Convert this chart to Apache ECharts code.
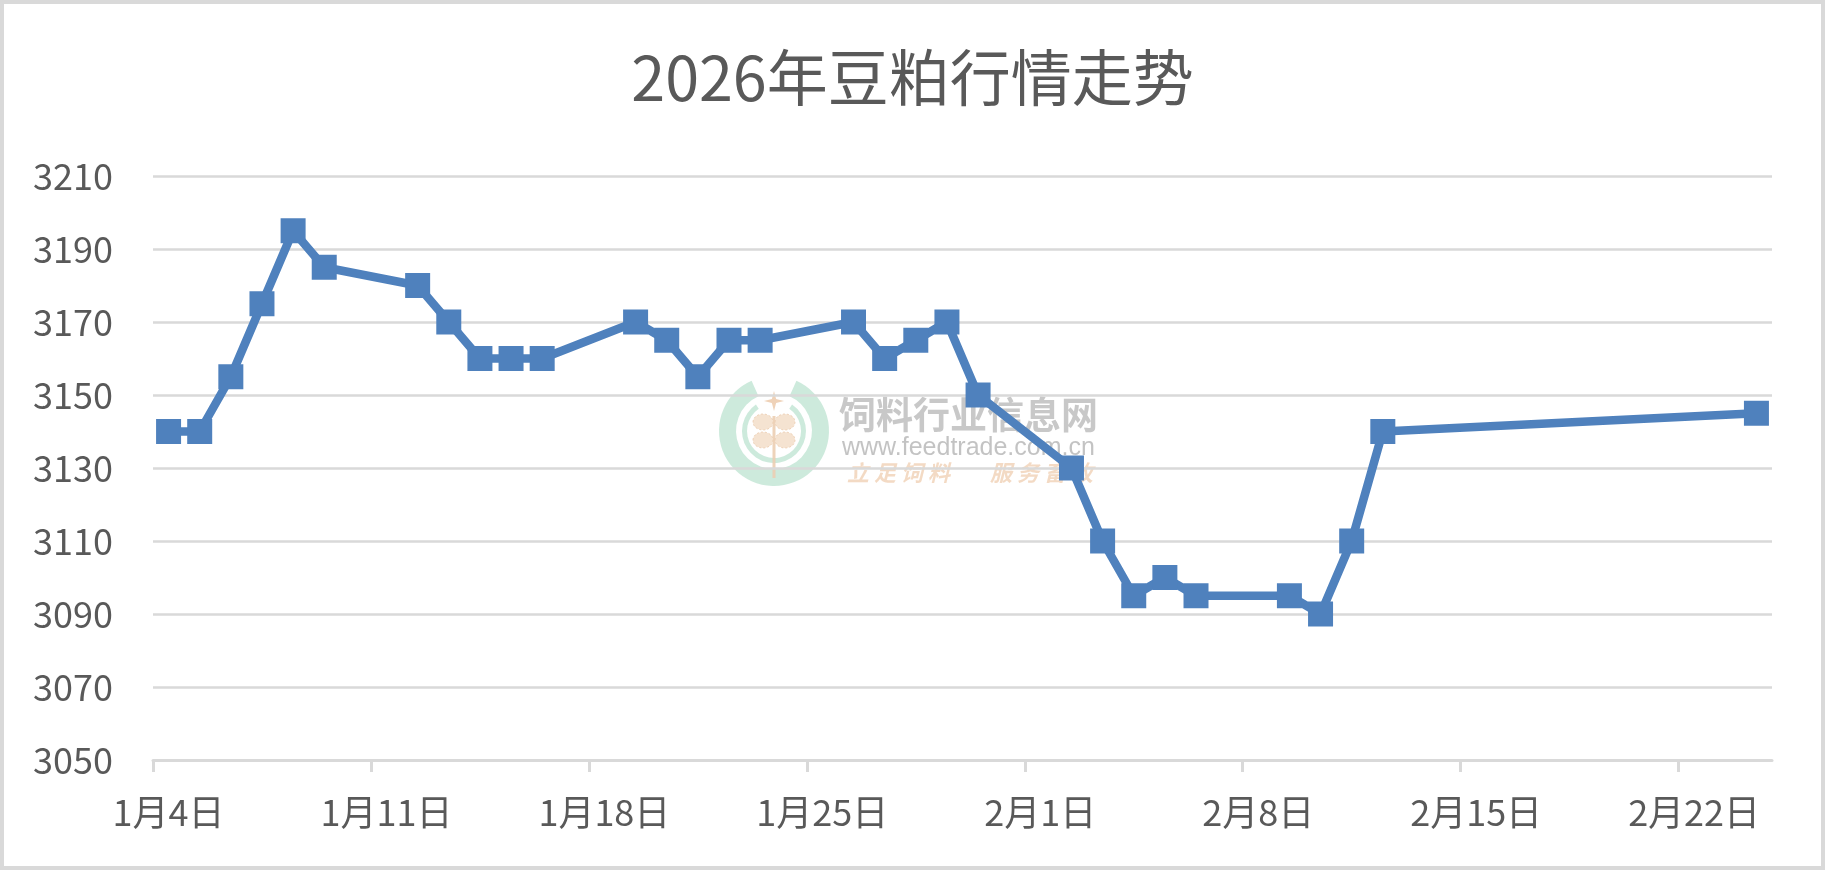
<!DOCTYPE html>
<html>
<head>
<meta charset="utf-8">
<title>2026年豆粕行情走势</title>
<script src="https://cdn.jsdelivr.net/npm/echarts@6/dist/echarts.min.js"></script>
<style>
  html, body { margin: 0; padding: 0; background: #fff; }
  #chart { width: 1825px; height: 870px; }
</style>
</head>
<body>
<div id="chart"></div>
<script>
// 交易日期与价格（元/吨）
const dates = [
  '2026-01-04', '2026-01-05', '2026-01-06', '2026-01-07', '2026-01-08', '2026-01-09',
  '2026-01-12', '2026-01-13', '2026-01-14', '2026-01-15', '2026-01-16',
  '2026-01-19', '2026-01-20', '2026-01-21', '2026-01-22', '2026-01-23',
  '2026-01-26', '2026-01-27', '2026-01-28', '2026-01-29', '2026-01-30',
  '2026-02-02', '2026-02-03', '2026-02-04', '2026-02-05', '2026-02-06',
  '2026-02-09', '2026-02-10', '2026-02-11', '2026-02-12',
  '2026-02-24'
]
const prices = [
  3140, 3140, 3155, 3175, 3195, 3185,
  3180, 3170, 3160, 3160, 3160,
  3170, 3165, 3155, 3165, 3165,
  3170, 3160, 3165, 3170, 3150,
  3130, 3110, 3095, 3100, 3095,
  3095, 3090, 3110, 3140,
  3145
]
// 横轴刻度日期
const tickDates = [
  '2026-01-04', '2026-01-11', '2026-01-18', '2026-01-25',
  '2026-02-01', '2026-02-08', '2026-02-15', '2026-02-22'
]
const axisStart = '2026-01-04'
const axisEnd = '2026-02-25'

const DAY = 86400000
function dayIndex(s) {
  return (Date.parse(s + 'T00:00:00Z') - Date.parse(axisStart + 'T00:00:00Z')) / DAY
}
function dayLabel(v) {
  const d = new Date(Date.parse(axisStart + 'T00:00:00Z') + Math.round(v) * DAY)
  return (d.getUTCMonth() + 1) + '月' + d.getUTCDate() + '日'
}

const tickValues = tickDates.map(dayIndex)
// Excel 日期轴：数据点落在当天格子的中间
const seriesData = dates.map((d, i) => [dayIndex(d) + 0.5, prices[i]])

const font = '"Noto Sans CJK SC", "Noto Sans", sans-serif'
const lineColor = '#4f81bd'
const gridColor = '#d9d9d9'
const textColor = '#595959'

// 水印：饲料行业信息网
const wmGreen = 'rgba(196, 230, 214, 0.85)'
const wmPeach = 'rgba(244, 224, 204, 0.9)'
const wmPeachLine = 'rgba(236, 206, 178, 0.9)'
function starPoints(cx, cy, r, r0) {
  const pts = []
  for (let i = 0; i < 8; i++) {
    const a = -Math.PI / 2 + i * Math.PI / 4
    const rr = i % 2 === 0 ? r : r0
    pts.push([cx + rr * Math.cos(a), cy + rr * Math.sin(a)])
  }
  return pts
}
function leaf(cx, cy) {
  return { type: 'ellipse', shape: { cx, cy, rx: 10, ry: 8 }, style: { fill: wmPeach, stroke: wmPeachLine, lineDash: [2, 2] } }
}
const sloganChars = []
'立足饲料'.split('').forEach((c, i) => sloganChars.push({ c, x: 858 + i * 27 }))
'服务畜牧'.split('').forEach((c, i) => sloganChars.push({ c, x: 1001 + i * 27 }))

const watermark = {
  type: 'group',
  z: 100,
  silent: true,
  children: [
    {
      type: 'sector',
      shape: { cx: 774, cy: 431, r: 55, r0: 38, startAngle: -Math.PI / 2 + 0.42, endAngle: 1.5 * Math.PI - 0.42 },
      style: { fill: wmGreen }
    },
    {
      type: 'sector',
      shape: { cx: 774, cy: 431, r: 32, r0: 27, startAngle: -Math.PI / 2 + 0.6, endAngle: 1.5 * Math.PI - 0.6 },
      style: { fill: wmGreen }
    },
    {
      type: 'line',
      shape: { x1: 774, y1: 416, x2: 774, y2: 478 },
      style: { stroke: wmPeachLine, lineWidth: 3 }
    },
    leaf(763, 422), leaf(785, 422), leaf(763, 440), leaf(785, 440),
    {
      type: 'polygon',
      shape: { points: starPoints(774, 401, 10, 3) },
      style: { fill: 'rgba(238, 208, 180, 0.95)' }
    },
    {
      type: 'text',
      x: 839, y: 415,
      style: {
        text: '饲料行业信息网',
        font: 'bold 37px ' + font,
        fill: 'rgba(190, 190, 190, 0.85)',
        stroke: 'rgba(255, 255, 255, 0.85)',
        lineWidth: 4,
        verticalAlign: 'middle'
      }
    },
    {
      type: 'text',
      x: 842, y: 448,
      style: {
        text: 'www.feedtrade.com.cn',
        font: '25px "Liberation Sans", Arial, sans-serif',
        fill: 'rgba(185, 185, 185, 0.85)',
        stroke: 'rgba(255, 255, 255, 0.85)',
        lineWidth: 3,
        verticalAlign: 'middle'
      }
    },
    ...sloganChars.map(o => ({
      type: 'text',
      x: o.x, y: 473,
      style: {
        text: o.c,
        font: 'italic bold 22px ' + font,
        fill: 'rgba(242, 214, 190, 0.9)',
        stroke: 'rgba(255, 255, 255, 0.8)',
        lineWidth: 3,
        align: 'center',
        verticalAlign: 'middle'
      }
    }))
  ]
}

const chart = echarts.init(document.getElementById('chart'))

const option = {
  backgroundColor: '#fff',
  animation: false,
  textStyle: { fontFamily: font },
  title: {
    text: '2026年豆粕行情走势',
    left: 'center',
    top: 42,
    textStyle: { fontSize: 61, fontWeight: 'normal', color: textColor, fontFamily: font }
  },
  grid: { left: 153, right: 53, top: 176, bottom: 110, containLabel: false },
  xAxis: {
    type: 'value',
    min: 0,
    max: dayIndex(axisEnd),
    interval: 7,
    axisLine: { show: true, onZero: false, lineStyle: { color: gridColor, width: 3 } },
    axisTick: { show: true, length: 12, customValues: tickValues, lineStyle: { color: gridColor, width: 3 } },
    axisLabel: {
      customValues: tickValues,
      formatter: dayLabel,
      fontSize: 36,
      color: textColor,
      margin: 34,
      padding: [0, 0, 0, 31]
    },
    splitLine: { show: false }
  },
  yAxis: {
    type: 'value',
    min: 3050,
    max: 3210,
    interval: 20,
    axisLine: { show: false },
    axisTick: { show: false },
    axisLabel: { fontSize: 36, color: textColor, margin: 40, formatter: v => String(v) },
    splitLine: { lineStyle: { color: gridColor, width: 2.5 } }
  },
  series: [
    {
      name: '豆粕',
      type: 'line',
      data: seriesData,
      symbol: 'rect',
      symbolSize: 25,
      showAllSymbol: true,
      lineStyle: { color: lineColor, width: 8.5, join: 'round' },
      itemStyle: { color: lineColor },
      z: 3
    }
  ],
  graphic: [
    {
      type: 'rect',
      z: 200,
      silent: true,
      shape: { x: 2, y: 2, width: 1821, height: 866 },
      style: { fill: 'none', stroke: gridColor, lineWidth: 4 }
    },
    watermark
  ]
}

chart.setOption(option)
</script>
</body>
</html>
